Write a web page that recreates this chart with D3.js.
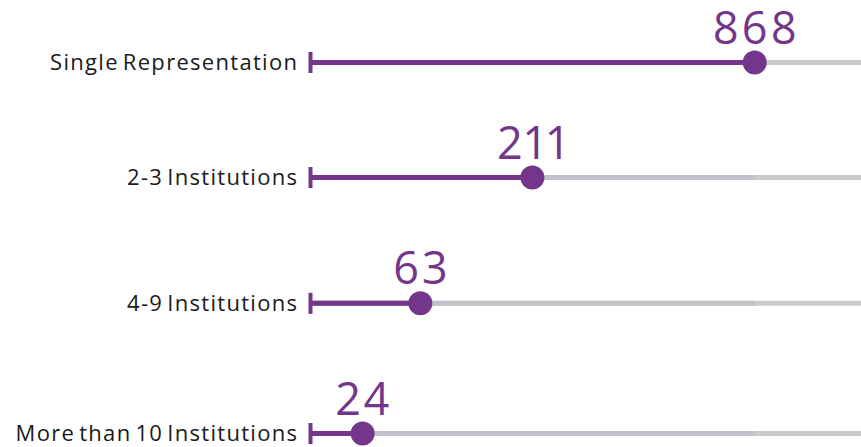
<!DOCTYPE html>
<html>
<head>
<meta charset="utf-8">
<script src="https://cdn.jsdelivr.net/npm/d3@7/dist/d3.min.js"></script>
<style>
  html, body { margin: 0; padding: 0; background: #ffffff; }
  svg { display: block; }
  .cat { font-family: "Open Sans", Lato, sans-serif; font-size: 22px; letter-spacing: 1.3px; word-spacing: -3px; fill: #1a1a1a; }
  .val { font-family: "Open Sans", Lato, sans-serif; font-size: 45px; letter-spacing: 3px; font-variant-numeric: proportional-nums; fill: #73368a; }
</style>
</head>
<body>
<svg id="chart" width="861" height="447"></svg>
<script>
// Number of institutions sharing representation
const categories = ["Single Representation", "2-3 Institutions", "4-9 Institutions", "More than 10 Institutions"];
const counts = [868, 211, 63, 24];

const width = 861, height = 447;
const purple = "#73368a";

const svg = d3.select("#chart");

// Horizontal value scale: compressed power scale so small counts stay visible
const x = d3.scalePow()
  .exponent(0.4)
  .domain([6, d3.max(counts)])
  .range([310.5, 754.7]);

// Row positions: rows open up slightly toward the bottom
const rowIndex = d3.scalePow()
  .exponent(1.066)
  .domain([0, categories.length - 1])
  .range([62.5, 433.5]);
const y = c => rowIndex(categories.indexOf(c));

const rows = svg.selectAll("g.row")
  .data(categories.map((c, i) => ({ cat: c, value: counts[i] })))
  .join("g")
  .attr("class", "row")
  .attr("transform", d => `translate(0,${y(d.cat)})`);

// full-width background track
rows.append("line")
  .attr("x1", x.range()[0])
  .attr("x2", width + 10)
  .attr("stroke", "#cacaca")
  .attr("stroke-width", 5);

// track up to the largest count
rows.append("line")
  .attr("x1", x.range()[0])
  .attr("x2", x(d3.max(counts)))
  .attr("stroke", "#c3c2c8")
  .attr("stroke-width", 5);

// filled part of the track
rows.append("line")
  .attr("x1", x.range()[0])
  .attr("x2", d => x(d.value))
  .attr("stroke", purple)
  .attr("stroke-width", 5);

// start cap
rows.append("line")
  .attr("x1", x.range()[0])
  .attr("x2", x.range()[0])
  .attr("y1", -10.5)
  .attr("y2", 10.5)
  .attr("stroke", purple)
  .attr("stroke-width", 4);

// value dot
rows.append("circle")
  .attr("cx", d => x(d.value))
  .attr("r", 12)
  .attr("fill", purple);

// value label (dx offsets the trailing letter-spacing)
rows.append("text")
  .attr("class", "val")
  .attr("x", d => x(d.value))
  .attr("dx", 1.5)
  .attr("y", -19)
  .attr("text-anchor", "middle")
  .text(d => d3.format("d")(d.value));

// category label
rows.append("text")
  .attr("class", "cat")
  .attr("x", 298.3)
  .attr("y", 0)
  .attr("dy", "0.35em")
  .attr("text-anchor", "end")
  .text(d => d.cat);
</script>
</body>
</html>
